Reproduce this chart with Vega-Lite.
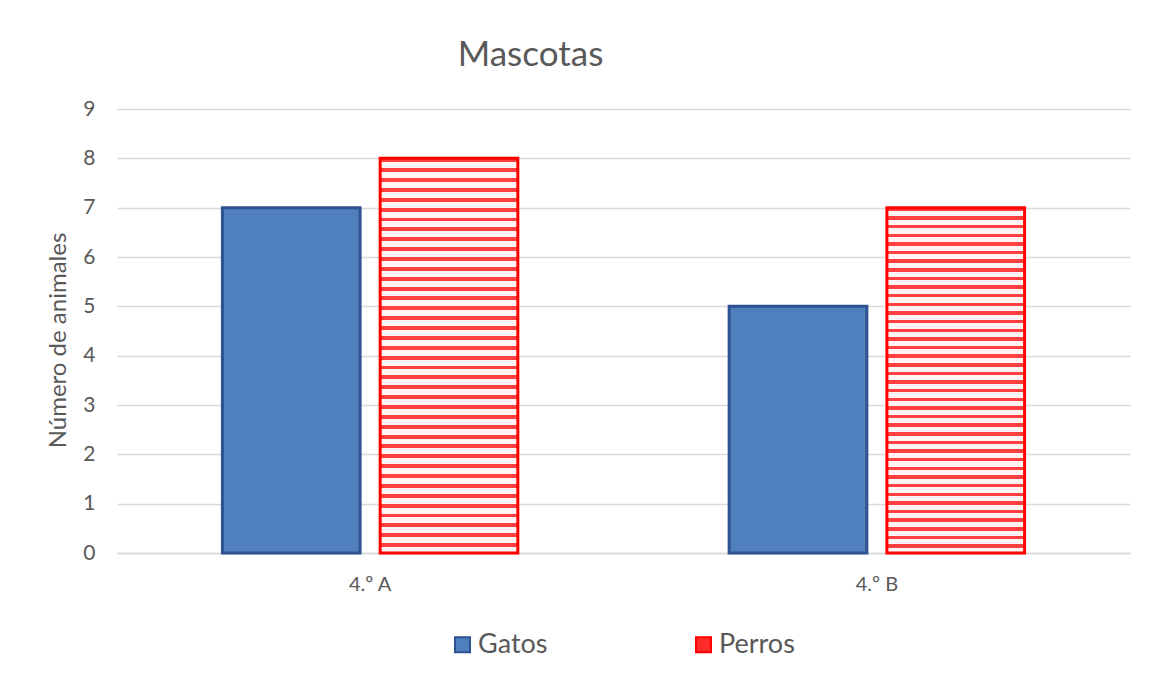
{
  "$schema": "https://vega.github.io/schema/vega-lite/v6.json",
  "width": 1013,
  "height": 444,
  "autosize": {"type": "none"},
  "padding": {"left": 117, "top": 109, "right": 25, "bottom": 121},
  "background": "white",
  "config": {
    "font": "Lato",
    "view": {"stroke": null},
    "axis": {"labelColor": "#595959", "titleColor": "#595959", "labelFont": "Lato", "titleFont": "Lato"}
  },
  "title": {
    "text": "Mascotas",
    "fontSize": 35,
    "fontWeight": "normal",
    "color": "#595959",
    "font": "Lato",
    "anchor": "middle",
    "dx": -93,
    "offset": 25
  },
  "data": {
    "values": [
      {"grupo": "4.º A", "animal": "Gatos", "n": 7},
      {"grupo": "4.º A", "animal": "Perros", "n": 8},
      {"grupo": "4.º B", "animal": "Gatos", "n": 5},
      {"grupo": "4.º B", "animal": "Perros", "n": 7}
    ]
  },
  "mark": {"type": "bar", "strokeWidth": 3},
  "encoding": {
    "x": {
      "field": "grupo",
      "type": "nominal",
      "scale": {"paddingInner": 0.417, "paddingOuter": 0.208},
      "axis": {
        "title": null,
        "labelAngle": 0,
        "labelFontSize": 20,
        "labelPadding": 21,
        "ticks": false,
        "domainColor": "#d9d9d9",
        "domainWidth": 1.5
      }
    },
    "xOffset": {
      "field": "animal",
      "type": "nominal",
      "scale": {"paddingInner": 0.127, "paddingOuter": 0}
    },
    "y": {
      "field": "n",
      "type": "quantitative",
      "scale": {"domain": [0, 9], "nice": false},
      "axis": {
        "title": "Número de animales",
        "titleFontSize": 24,
        "titleFontWeight": "normal",
        "titlePadding": 12,
        "titleY": 231,
        "values": [0, 1, 2, 3, 4, 5, 6, 7, 8, 9],
        "labelFontSize": 21,
        "labelPadding": 22,
        "ticks": false,
        "domain": false,
        "gridColor": "#d9d9d9",
        "gridWidth": 1.3
      }
    },
    "fill": {
      "condition": {
        "test": "datum.animal === 'Perros'",
        "value": {
          "gradient": "linear", "x1": 0, "y1": 0, "x2": 0, "y2": 1,
          "stops": [
            {"offset": 0, "color": "#ff4040"}, {"offset": 0.01, "color": "#ff4040"}, {"offset": 0.01, "color": "#fff4f4"}, {"offset": 0.025, "color": "#fff4f4"},
            {"offset": 0.025, "color": "#ff4040"}, {"offset": 0.035, "color": "#ff4040"}, {"offset": 0.035, "color": "#fff4f4"}, {"offset": 0.05, "color": "#fff4f4"},
            {"offset": 0.05, "color": "#ff4040"}, {"offset": 0.06, "color": "#ff4040"}, {"offset": 0.06, "color": "#fff4f4"}, {"offset": 0.075, "color": "#fff4f4"},
            {"offset": 0.075, "color": "#ff4040"}, {"offset": 0.085, "color": "#ff4040"}, {"offset": 0.085, "color": "#fff4f4"}, {"offset": 0.1, "color": "#fff4f4"},
            {"offset": 0.1, "color": "#ff4040"}, {"offset": 0.11, "color": "#ff4040"}, {"offset": 0.11, "color": "#fff4f4"}, {"offset": 0.125, "color": "#fff4f4"},
            {"offset": 0.125, "color": "#ff4040"}, {"offset": 0.135, "color": "#ff4040"}, {"offset": 0.135, "color": "#fff4f4"}, {"offset": 0.15, "color": "#fff4f4"},
            {"offset": 0.15, "color": "#ff4040"}, {"offset": 0.16, "color": "#ff4040"}, {"offset": 0.16, "color": "#fff4f4"}, {"offset": 0.175, "color": "#fff4f4"},
            {"offset": 0.175, "color": "#ff4040"}, {"offset": 0.185, "color": "#ff4040"}, {"offset": 0.185, "color": "#fff4f4"}, {"offset": 0.2, "color": "#fff4f4"},
            {"offset": 0.2, "color": "#ff4040"}, {"offset": 0.21, "color": "#ff4040"}, {"offset": 0.21, "color": "#fff4f4"}, {"offset": 0.225, "color": "#fff4f4"},
            {"offset": 0.225, "color": "#ff4040"}, {"offset": 0.235, "color": "#ff4040"}, {"offset": 0.235, "color": "#fff4f4"}, {"offset": 0.25, "color": "#fff4f4"},
            {"offset": 0.25, "color": "#ff4040"}, {"offset": 0.26, "color": "#ff4040"}, {"offset": 0.26, "color": "#fff4f4"}, {"offset": 0.275, "color": "#fff4f4"},
            {"offset": 0.275, "color": "#ff4040"}, {"offset": 0.285, "color": "#ff4040"}, {"offset": 0.285, "color": "#fff4f4"}, {"offset": 0.3, "color": "#fff4f4"},
            {"offset": 0.3, "color": "#ff4040"}, {"offset": 0.31, "color": "#ff4040"}, {"offset": 0.31, "color": "#fff4f4"}, {"offset": 0.325, "color": "#fff4f4"},
            {"offset": 0.325, "color": "#ff4040"}, {"offset": 0.335, "color": "#ff4040"}, {"offset": 0.335, "color": "#fff4f4"}, {"offset": 0.35, "color": "#fff4f4"},
            {"offset": 0.35, "color": "#ff4040"}, {"offset": 0.36, "color": "#ff4040"}, {"offset": 0.36, "color": "#fff4f4"}, {"offset": 0.375, "color": "#fff4f4"},
            {"offset": 0.375, "color": "#ff4040"}, {"offset": 0.385, "color": "#ff4040"}, {"offset": 0.385, "color": "#fff4f4"}, {"offset": 0.4, "color": "#fff4f4"},
            {"offset": 0.4, "color": "#ff4040"}, {"offset": 0.41, "color": "#ff4040"}, {"offset": 0.41, "color": "#fff4f4"}, {"offset": 0.425, "color": "#fff4f4"},
            {"offset": 0.425, "color": "#ff4040"}, {"offset": 0.435, "color": "#ff4040"}, {"offset": 0.435, "color": "#fff4f4"}, {"offset": 0.45, "color": "#fff4f4"},
            {"offset": 0.45, "color": "#ff4040"}, {"offset": 0.46, "color": "#ff4040"}, {"offset": 0.46, "color": "#fff4f4"}, {"offset": 0.475, "color": "#fff4f4"},
            {"offset": 0.475, "color": "#ff4040"}, {"offset": 0.485, "color": "#ff4040"}, {"offset": 0.485, "color": "#fff4f4"}, {"offset": 0.5, "color": "#fff4f4"},
            {"offset": 0.5, "color": "#ff4040"}, {"offset": 0.51, "color": "#ff4040"}, {"offset": 0.51, "color": "#fff4f4"}, {"offset": 0.525, "color": "#fff4f4"},
            {"offset": 0.525, "color": "#ff4040"}, {"offset": 0.535, "color": "#ff4040"}, {"offset": 0.535, "color": "#fff4f4"}, {"offset": 0.55, "color": "#fff4f4"},
            {"offset": 0.55, "color": "#ff4040"}, {"offset": 0.56, "color": "#ff4040"}, {"offset": 0.56, "color": "#fff4f4"}, {"offset": 0.575, "color": "#fff4f4"},
            {"offset": 0.575, "color": "#ff4040"}, {"offset": 0.585, "color": "#ff4040"}, {"offset": 0.585, "color": "#fff4f4"}, {"offset": 0.6, "color": "#fff4f4"},
            {"offset": 0.6, "color": "#ff4040"}, {"offset": 0.61, "color": "#ff4040"}, {"offset": 0.61, "color": "#fff4f4"}, {"offset": 0.625, "color": "#fff4f4"},
            {"offset": 0.625, "color": "#ff4040"}, {"offset": 0.635, "color": "#ff4040"}, {"offset": 0.635, "color": "#fff4f4"}, {"offset": 0.65, "color": "#fff4f4"},
            {"offset": 0.65, "color": "#ff4040"}, {"offset": 0.66, "color": "#ff4040"}, {"offset": 0.66, "color": "#fff4f4"}, {"offset": 0.675, "color": "#fff4f4"},
            {"offset": 0.675, "color": "#ff4040"}, {"offset": 0.685, "color": "#ff4040"}, {"offset": 0.685, "color": "#fff4f4"}, {"offset": 0.7, "color": "#fff4f4"},
            {"offset": 0.7, "color": "#ff4040"}, {"offset": 0.71, "color": "#ff4040"}, {"offset": 0.71, "color": "#fff4f4"}, {"offset": 0.725, "color": "#fff4f4"},
            {"offset": 0.725, "color": "#ff4040"}, {"offset": 0.735, "color": "#ff4040"}, {"offset": 0.735, "color": "#fff4f4"}, {"offset": 0.75, "color": "#fff4f4"},
            {"offset": 0.75, "color": "#ff4040"}, {"offset": 0.76, "color": "#ff4040"}, {"offset": 0.76, "color": "#fff4f4"}, {"offset": 0.775, "color": "#fff4f4"},
            {"offset": 0.775, "color": "#ff4040"}, {"offset": 0.785, "color": "#ff4040"}, {"offset": 0.785, "color": "#fff4f4"}, {"offset": 0.8, "color": "#fff4f4"},
            {"offset": 0.8, "color": "#ff4040"}, {"offset": 0.81, "color": "#ff4040"}, {"offset": 0.81, "color": "#fff4f4"}, {"offset": 0.825, "color": "#fff4f4"},
            {"offset": 0.825, "color": "#ff4040"}, {"offset": 0.835, "color": "#ff4040"}, {"offset": 0.835, "color": "#fff4f4"}, {"offset": 0.85, "color": "#fff4f4"},
            {"offset": 0.85, "color": "#ff4040"}, {"offset": 0.86, "color": "#ff4040"}, {"offset": 0.86, "color": "#fff4f4"}, {"offset": 0.875, "color": "#fff4f4"},
            {"offset": 0.875, "color": "#ff4040"}, {"offset": 0.885, "color": "#ff4040"}, {"offset": 0.885, "color": "#fff4f4"}, {"offset": 0.9, "color": "#fff4f4"},
            {"offset": 0.9, "color": "#ff4040"}, {"offset": 0.91, "color": "#ff4040"}, {"offset": 0.91, "color": "#fff4f4"}, {"offset": 0.925, "color": "#fff4f4"},
            {"offset": 0.925, "color": "#ff4040"}, {"offset": 0.935, "color": "#ff4040"}, {"offset": 0.935, "color": "#fff4f4"}, {"offset": 0.95, "color": "#fff4f4"},
            {"offset": 0.95, "color": "#ff4040"}, {"offset": 0.96, "color": "#ff4040"}, {"offset": 0.96, "color": "#fff4f4"}, {"offset": 0.975, "color": "#fff4f4"},
            {"offset": 0.975, "color": "#ff4040"}, {"offset": 0.985, "color": "#ff4040"}, {"offset": 0.985, "color": "#fff4f4"}, {"offset": 1, "color": "#fff4f4"}
          ]
        }
      },
      "field": "animal",
      "type": "nominal",
      "scale": {"domain": ["Gatos", "Perros"], "range": ["#4f7fbc", "#ff2a2a"]},
      "legend": {
        "title": null,
        "orient": "none",
        "legendX": 332,
        "legendY": 522,
        "direction": "horizontal",
        "symbolType": "square",
        "symbolSize": 225,
        "symbolStrokeWidth": 2,
        "labelFontSize": 27,
        "labelColor": "#595959",
        "labelFont": "Lato",
        "labelOffset": 2,
        "columnPadding": 142
      }
    },
    "stroke": {
      "field": "animal",
      "type": "nominal",
      "scale": {"domain": ["Gatos", "Perros"], "range": ["#2f5290", "#ff0000"]},
      "legend": null
    }
  }
}
